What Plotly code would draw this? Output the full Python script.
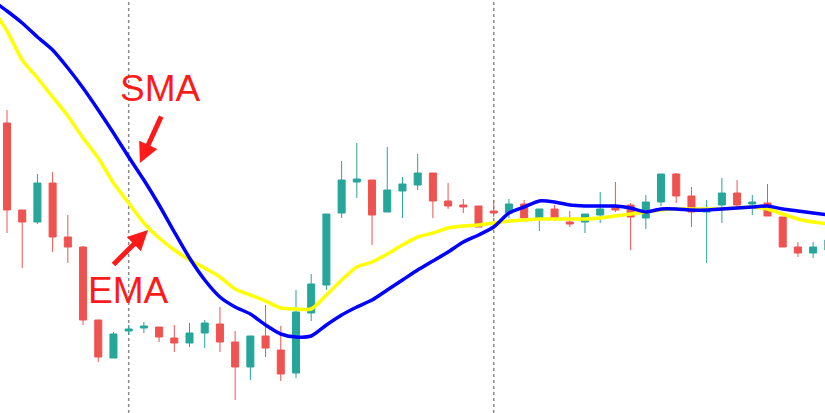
import plotly.graph_objects as go

# Candle data (index, open, high, low, close)
idx = list(range(55))
opens = [129.0, 120.3, 119.1, 123.0, 117.6, 116.6, 109.3, 105.5, 108.2, 108.5,
         108.6, 107.5, 107.0, 108.0, 108.9, 107.1, 104.6, 107.7, 106.3, 104.0,
         110.0, 112.8, 120.0, 123.1, 123.3, 120.1, 122.2, 122.8, 124.0, 121.2,
         120.8, 120.7, 120.2, 120.0, 120.9, 119.4, 120.4, 119.1, 119.1, 119.8,
         120.7, 120.8, 119.5, 121.1, 123.9, 121.7, 120.1, 120.8, 122.0, 120.9,
         121.0, 119.6, 116.6, 116.0, 116.3]
highs = [130.3, 120.3, 123.9, 124.1, 119.8, 116.7, 109.3, 108.1, 108.8, 109.1,
         108.6, 108.8, 109.0, 109.3, 110.6, 108.2, 107.7, 110.8, 108.7, 112.3,
         113.9, 119.9, 125.2, 127.0, 123.3, 126.6, 123.6, 125.9, 124.0, 123.0,
         121.4, 120.7, 121.3, 121.4, 121.3, 120.4, 120.8, 120.2, 119.9, 122.1,
         123.1, 121.0, 121.8, 123.9, 124.0, 122.6, 121.3, 123.5, 123.3, 121.8,
         122.9, 119.6, 117.1, 117.1, 117.8]
lows = [118.0, 114.5, 118.9, 116.1, 115.0, 108.8, 105.1, 105.5, 107.8, 108.0,
        107.1, 106.1, 106.6, 106.5, 106.1, 101.3, 103.3, 105.6, 103.2, 103.5,
        109.2, 112.3, 119.5, 121.5, 116.8, 120.1, 119.5, 122.3, 119.5, 120.4,
        120.0, 118.6, 119.6, 119.5, 119.3, 118.2, 119.2, 118.6, 118.0, 119.0,
        120.1, 116.3, 118.4, 120.7, 121.0, 118.6, 115.0, 119.0, 120.5, 119.8,
        119.7, 116.6, 115.6, 115.5, 115.8]
closes = [120.3, 119.1, 123.0, 117.6, 116.6, 109.3, 105.6, 107.9, 108.4, 108.7,
          107.6, 107.0, 108.0, 109.0, 107.1, 104.6, 107.7, 106.5, 103.9, 110.1,
          112.9, 119.9, 123.3, 123.4, 119.8, 122.3, 122.9, 124.0, 121.2, 120.7,
          120.6, 118.6, 120.0, 120.9, 119.5, 120.4, 119.5, 118.9, 119.9, 120.4,
          120.3, 119.6, 121.1, 123.9, 121.7, 120.1, 120.3, 122.0, 120.8, 121.1,
          119.7, 116.6, 116.0, 116.6, 117.3]

# Moving averages (index -1 .. 54)
ma_idx = list(range(-1, 55))
sma = [141.3, 140.2, 139.0, 137.6, 136.3, 134.5, 132.5, 130.3, 128.0, 125.6,
       123.3, 120.8, 118.1, 115.5, 113.3, 111.6, 110.6, 109.9, 108.8, 107.9,
       107.6, 107.7, 108.8, 109.8, 110.6, 111.3, 112.3, 113.3, 114.3, 115.2,
       116.1, 117.1, 117.8, 118.6, 120.0, 120.6, 121.2, 121.1, 120.8, 120.7,
       120.7, 120.7, 120.5, 120.1, 120.4, 120.4, 120.3, 120.3, 120.4, 120.5,
       120.6, 120.7, 120.4, 120.2, 120.0, 119.8]
ema = [140.5, 138.2, 135.3, 133.5, 131.6, 129.7, 127.5, 125.5, 123.0, 121.0,
       119.0, 117.5, 116.3, 115.3, 114.5, 113.6, 112.4, 111.8, 111.2, 110.5,
       110.4, 110.4, 111.8, 113.3, 114.6, 115.1, 115.9, 116.8, 117.6, 118.0,
       118.5, 118.7, 118.8, 119.0, 119.2, 119.3, 119.4, 119.4, 119.4, 119.4,
       119.5, 119.7, 119.9, 120.1, 120.3, 120.4, 120.4, 120.4, 120.4, 120.5,
       120.6, 120.4, 119.9, 119.4, 119.1, 118.9]

vlines = [8, 32]

fig = go.Figure()
fig.add_trace(go.Candlestick(
    x=idx, open=opens, high=highs, low=lows, close=closes,
    increasing=dict(line=dict(color="#26a69a", width=1), fillcolor="#26a69a"),
    decreasing=dict(line=dict(color="#ef5350", width=1), fillcolor="#ef5350"),
    whiskerwidth=0, showlegend=False, hoverinfo="skip"))
fig.add_trace(go.Scatter(x=ma_idx, y=ema, mode="lines",
                         line=dict(color="#ffff00", width=3.5, shape="spline", smoothing=0.6),
                         showlegend=False, hoverinfo="skip"))
fig.add_trace(go.Scatter(x=ma_idx, y=sma, mode="lines",
                         line=dict(color="#0000ff", width=3.5, shape="spline", smoothing=0.6),
                         showlegend=False, hoverinfo="skip"))

for v in vlines:
    fig.add_shape(type="line", x0=v, x1=v, y0=0, y1=1, xref="x", yref="paper",
                  line=dict(color="#8a8a8a", width=1.5, dash="dot"), layer="below")

fnt = dict(family="Liberation Sans, Arial, sans-serif", size=37, color="#ff1a1a")
fig.add_annotation(x=10.06, y=132.5, text="SMA", showarrow=False, font=fnt)
fig.add_annotation(x=8.02, y=112.3, text="EMA", showarrow=False, font=fnt)
# arrows
fig.add_annotation(x=8.74, y=125.0, ax=22, ay=-48, text="", showarrow=True,
                   arrowhead=2, arrowsize=0.8, arrowwidth=5, arrowcolor="#ff1a1a", standoff=0)
fig.add_annotation(x=9.27, y=118.3, ax=-36, ay=36, text="", showarrow=True,
                   arrowhead=2, arrowsize=0.8, arrowwidth=5, arrowcolor="#ff1a1a", standoff=0)

fig.update_layout(
    width=825, height=413,
    margin=dict(l=0, r=0, t=0, b=0),
    paper_bgcolor="white", plot_bgcolor="white",
    boxgap=0.34,
    xaxis=dict(range=[-0.46, 53.78], visible=False, rangeslider=dict(visible=False),
               showgrid=False, zeroline=False),
    yaxis=dict(range=[100, 141.3], visible=False, showgrid=False, zeroline=False),
)

fig.write_html("out.html", config={"displayModeBar": False},
               post_script="document.body.style.margin='0';document.body.style.overflow='hidden';")
